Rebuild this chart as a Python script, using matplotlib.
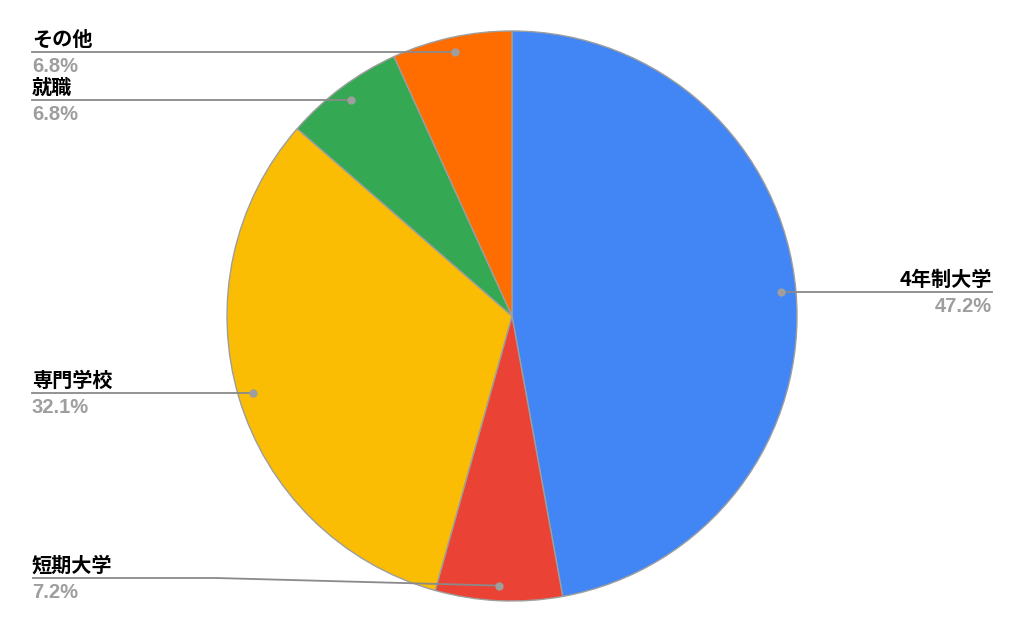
import numpy as np
import matplotlib
matplotlib.use("Agg")
import matplotlib.pyplot as plt

categories = ["4年制大学", "短期大学", "専門学校", "就職", "その他"]
values = [47.2, 7.2, 32.1, 6.8, 6.8]
pct_labels = ["47.2%", "7.2%", "32.1%", "6.8%", "6.8%"]
colors = ["#4285F4", "#EA4335", "#FBBC04", "#34A853", "#FF6D01"]

W, H = 1024, 633
fig = plt.figure(figsize=(W / 100, H / 100), dpi=100)
ax = fig.add_axes([0, 0, 1, 1])
ax.set_xlim(0, W)
ax.set_ylim(0, H)
ax.set_aspect("equal")
ax.axis("off")

cx, cy, R = 512, 633 - 316, 285
wedges, _ = ax.pie(values, colors=colors, startangle=90, counterclock=False,
                   center=(cx, cy), radius=R, frame=True,
                   wedgeprops=dict(edgecolor="#9e9e9e", linewidth=1.0))
ax.set_xlim(0, W)
ax.set_ylim(0, H)
ax.axis("off")

line_col = "#8a8a8a"
name_font = dict(family=["Noto Sans CJK JP", "DejaVu Sans"], weight="bold", size=14.5, color="#000000")
pct_font = dict(family=["Liberation Sans", "DejaVu Sans"], weight="bold", size=14.5, color="#9e9e9e")

left_x, right_x = 32, 992
for w, name, pl in zip(wedges, categories, pct_labels):
    ang = np.deg2rad((w.theta1 + w.theta2) / 2)
    dx, dy = np.cos(ang), np.sin(ang)
    px, py = cx + 0.947 * R * dx, cy + 0.947 * R * dy
    ly = max(py, 55)
    if dx >= 0:
        tx, ha = right_x, "right"
    else:
        tx, ha = left_x, "left"
    if abs(ly - py) > 0.5:
        bend_x = 216
        ax.plot([px, bend_x, tx], [py, ly, ly], color=line_col, lw=1.3, zorder=3,
                solid_capstyle="butt")
    else:
        ax.plot([px, tx], [py, ly], color=line_col, lw=1.3, zorder=3)
    ax.plot([px], [py], "o", color="#9e9e9e", ms=6, mec="none", zorder=4)
    ax.text(tx, ly + 6, name, ha=ha, va="baseline", **name_font)
    ax.text(tx, ly - 5, pl, ha=ha, va="top", **pct_font)

fig.savefig("out.png", dpi=100)
